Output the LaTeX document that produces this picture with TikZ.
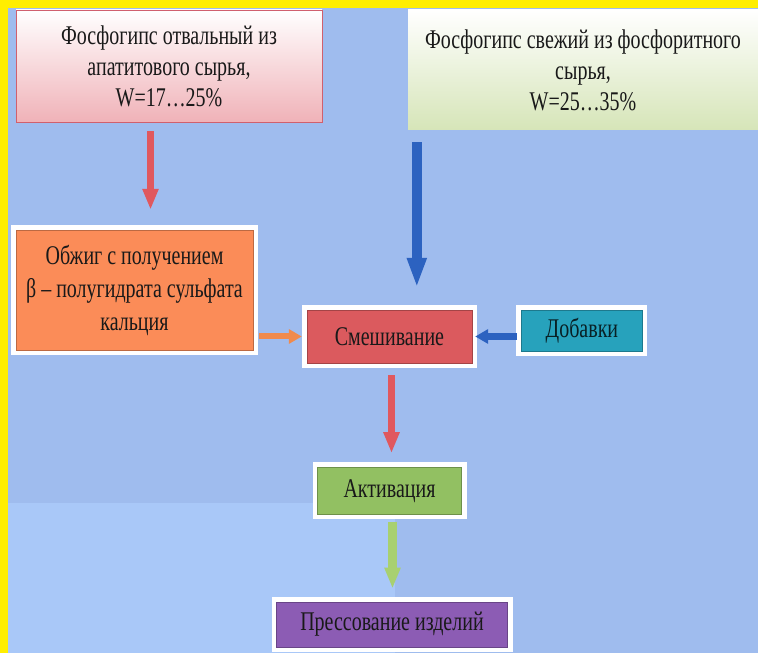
\documentclass[tikz,border=0pt]{standalone}
\usepackage{fontspec}
\setmainfont{Liberation Serif}[FakeStretch=0.74]
\usetikzlibrary{arrows.meta,positioning,calc}

\definecolor{bgblue}{HTML}{9FBCEE}
\definecolor{bglight}{HTML}{A9C8F8}
\definecolor{frameyellow}{HTML}{FFEE00}
\definecolor{pinkbot}{HTML}{F0B2B8}
\definecolor{pinkline}{HTML}{D0606E}
\definecolor{greenbot}{HTML}{D6E5B8}
\definecolor{orangefill}{HTML}{FB8C58}
\definecolor{redfill}{HTML}{DB5A5E}
\definecolor{tealfill}{HTML}{27A2BC}
\definecolor{greenfill}{HTML}{92C062}
\definecolor{violetfill}{HTML}{8C5CB4}
\definecolor{redarrow}{HTML}{E0585E}
\definecolor{bluearrow}{HTML}{2C62C0}
\definecolor{orangearrow}{HTML}{F08A4C}
\definecolor{greenarrow}{HTML}{A8D070}

\begin{document}
\begin{tikzpicture}[x=1pt, y=1pt, >=latex,
    every node/.style={font=\fontsize{27}{31}\selectfont, text=black!90, align=center, inner sep=0pt},
    srcbox/.style={minimum width=#1},
    stepbox/.style={fill=#1, draw=#1!75!black, thin, preaction={draw=white, line width=10pt}},
    blockarr/.style={draw=#1, line width=7pt, -{Triangle[width=15pt, length=21pt]}},
    flatarr/.style={draw=#1, line width=6pt, -{Triangle[width=14pt, length=13pt]}}]
    % background
    \useasboundingbox (0,0) rectangle (758,653);
    \fill[bgblue] (0,0) rectangle (758,653);
    \fill[bglight] (8,0) rectangle (395,150);
    \fill[frameyellow] (0,0) rectangle (8,653);
    \fill[frameyellow] (0,645) rectangle (758,653);

    \node[srcbox=306pt, minimum height=112pt, top color=white, bottom color=pinkbot, draw=pinkline] (otv) at (169,587)
      {Фосфогипс отвальный из\\апатитового сырья,\\W=17…25\%};
    \node[srcbox=350pt, minimum height=120pt, top color=white, bottom color=greenbot] (svezh) at (583,583)
      {Фосфогипс свежий из фосфоритного\\сырья,\\W=25…35\%};
    \node[stepbox=orangefill, minimum width=237pt, minimum height=120pt, font=\fontsize{27}{33}\selectfont] (obzhig) at (134.5,363)
      {Обжиг с получением\\β – полугидрата сульфата\\кальция};
    \node[stepbox=redfill, minimum width=165pt, minimum height=53pt] (smesh) at (389.5,316.5) {Смешивание};
    \node[stepbox=tealfill, minimum width=121pt, minimum height=41pt, right=49pt of smesh, yshift=6pt,
      text=black!80!tealfill] (dob) {Добавки};
    \node[stepbox=greenfill, minimum width=144pt, minimum height=47pt, below=104pt of smesh] (akt) {Активация};
    \node[stepbox=violetfill, minimum width=231pt, minimum height=45pt, below=87pt of akt, xshift=2.5pt] (press)
      {Прессование изделий};

    \draw[blockarr=redarrow, shorten <=9pt, shorten >=20pt]
      ([xshift=-18.5pt]otv.south) -- ([xshift=-18.5pt]otv.south |- obzhig.north);
    \draw[draw=bluearrow, line width=10pt, -{Triangle[width=18pt, length=30pt]}, shorten <=12pt, shorten >=22pt]
      ([xshift=9pt]svezh.south west) -- ([xshift=9pt]svezh.south west |- smesh.north);
    \draw[flatarr=orangearrow, shorten <=6pt, shorten >=5pt] (obzhig.east |- smesh.west) -- (smesh.west);
    \draw[flatarr=bluearrow, line width=7pt, shorten <=4pt, shorten >=3pt] (smesh.east -| dob.west) -- (smesh.east);
    \draw[blockarr=redarrow, shorten <=12pt, shorten >=14pt] ([xshift=2pt]smesh.south) -- ([xshift=2pt]smesh.south |- akt.north);
    \draw[blockarr=greenarrow, line width=9pt, shorten <=7pt, shorten >=13pt] ([xshift=3pt]akt.south) -- ([xshift=3pt]akt.south |- press.north);
\end{tikzpicture}
\end{document}
